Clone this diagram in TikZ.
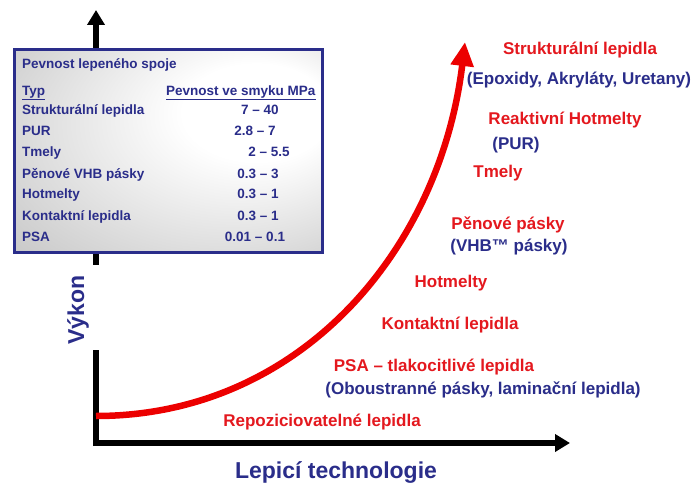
\documentclass[tikz,border=0pt]{standalone}
\usepackage{fontspec}
\setmainfont{Liberation Sans}
\usetikzlibrary{arrows.meta}
\definecolor{navy}{RGB}{42,45,138}
\definecolor{lblred}{RGB}{228,24,30}
\definecolor{curvered}{RGB}{236,0,0}
\pgfdeclareradialshading{tabshade}{\pgfpoint{18bp}{12bp}}{color(0bp)=(white);color(12bp)=(white);color(40bp)=(black!20);color(60bp)=(black!34)}
\tikzset{
 tabtxt/.style={text=navy, font=\fontsize{13.5}{15}\selectfont\bfseries, inner sep=0pt, text height=9.6pt, text depth=2.8pt},
 redlbl/.style={text=lblred, font=\fontsize{17}{19}\selectfont\bfseries, inner sep=0pt, text height=12.5pt, text depth=3.5pt},
 bluelbl/.style={redlbl, text=navy},
 axistitle/.style={text=navy, font=\fontsize{23}{26}\selectfont\bfseries, inner sep=0pt, text height=17pt, text depth=5pt},
 axisline/.style={line width=6pt},
 axisarrow/.style={axisline, -{Triangle[width=17pt,length=15pt]}},
 perfcurve/.style={curvered, line width=6.5pt, -{Triangle[width=22pt,length=24pt]}},
 tablebox/.style={draw=navy, line width=3pt, shading=tabshade},
}
\begin{document}
\begin{tikzpicture}[x=1pt,y=-1pt]
\useasboundingbox[fill=white] (0,0) rectangle (693,486);
% axes
\coordinate (origin) at (96,443);
\coordinate (ytop) at (96,10);
\coordinate (xend) at (570,443);
\coordinate (gaplow) at (96,350);
\coordinate (gaphigh) at (96,265);
\draw[axisline] (96,446) -- (gaplow);
\draw[axisarrow] (gaphigh) -- (ytop);
\draw[axisarrow] (93,443) -- (xend);
% curve
\coordinate (cstart) at (96,416);
\coordinate (cend) at (465,42);
\draw[perfcurve] (cstart) .. controls (300,416) and (440,250) .. (cend);
% table box
\path[tablebox] (14,50) rectangle (322,253);
\node[tabtxt, anchor=west] (title) at (22,65) {Pevnost lepeného spoje};
\node[tabtxt, anchor=west] (typ) at (22,92) {\underline{Typ}};
\node[tabtxt, anchor=west] (pev) at (166,92) {\underline{Pevnost ve smyku MPa}};
\node[tabtxt, anchor=west] (r1) at (22,111) {Strukturální lepidla};
\node[tabtxt, anchor=west] (r2) at (22,132) {PUR};
\node[tabtxt, anchor=west] (r3) at (22,153) {Tmely};
\node[tabtxt, anchor=west] (r4) at (22,175) {Pěnové VHB pásky};
\node[tabtxt, anchor=west] (r5) at (22,195) {Hotmelty};
\node[tabtxt, anchor=west] (r6) at (22,217) {Kontaktní lepidla};
\node[tabtxt, anchor=west] (r7) at (22,238) {PSA};
\node[tabtxt] (v1) at (260,111) {7 – 40};
\node[tabtxt] (v2) at (255,132) {2.8 – 7};
\node[tabtxt] (v3) at (269,153) {2 – 5.5};
\node[tabtxt] (v4) at (258,175) {0.3 – 3};
\node[tabtxt] (v5) at (258,195) {0.3 – 1};
\node[tabtxt] (v6) at (258,217) {0.3 – 1};
\node[tabtxt] (v7) at (255,238) {0.01 – 0.1};
% labels
\node[redlbl] (l1) at (580,50) {Strukturální lepidla};
\node[bluelbl] (l1b) at (579,80) {(Epoxidy, Akryláty, Uretany)};
\node[redlbl] (l2) at (565,120) {Reaktivní Hotmelty};
\node[bluelbl] (l2b) at (516,145) {(PUR)};
\node[redlbl] (l3) at (498,173) {Tmely};
\node[redlbl] (l4) at (508,225) {Pěnové pásky};
\node[bluelbl] (l4b) at (509,247) {(VHB™ pásky)};
\node[redlbl] (l5) at (451,283) {Hotmelty};
\node[redlbl] (l6) at (450,325) {Kontaktní lepidla};
\node[redlbl] (l7) at (434,367) {PSA – tlakocitlivé lepidla};
\node[bluelbl] (l7b) at (483,390) {(Oboustranné pásky, laminační lepidla)};
\node[redlbl] (l8) at (322,422) {Repoziciovatelné lepidla};
\node[axistitle] (xt) at (336,472) {Lepicí technologie};
\node[axistitle, rotate=90] (yt) at (78,310) {Výkon};
\end{tikzpicture}
\end{document}
